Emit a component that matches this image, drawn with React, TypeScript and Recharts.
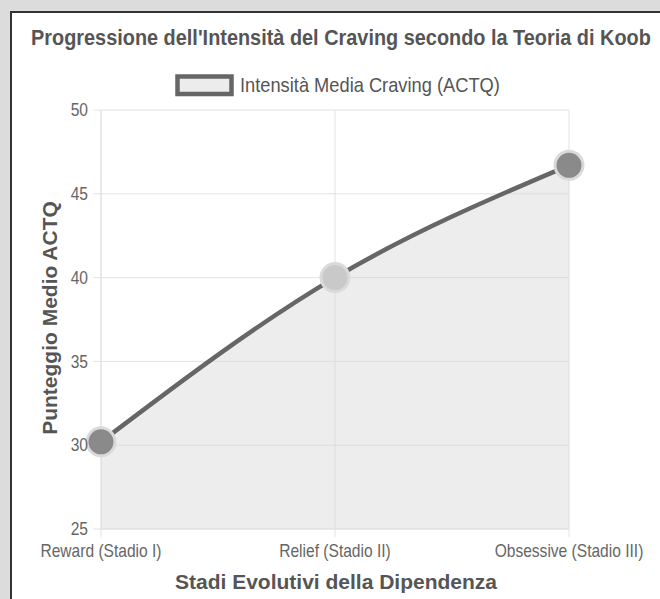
import { ComposedChart, Area, XAxis, YAxis, CartesianGrid } from 'recharts';

const STAGES = ['Reward (Stadio I)', 'Relief (Stadio II)', 'Obsessive (Stadio III)'];
const CRAVING = [30.2, 40.0, 46.7];
const Y_TICKS = [25, 30, 35, 40, 45, 50];

const POINT_FILLS = ['#8a8a8a', '#c9c9c9', '#8a8a8a'];
const FONT = '"Liberation Sans", Arial, sans-serif';
// the reference text is slightly narrower than Arial
const SQUEEZE = 0.89;

const data = STAGES.map((stage, i) => ({ stage, value: CRAVING[i] }));

function Dot(props: any) {
  const { cx, cy, index } = props;
  if (cx == null || cy == null) return null;
  return (
    <circle
      key={`dot-${index}`}
      cx={cx}
      cy={cy}
      r={14}
      fill={POINT_FILLS[index]}
      stroke="#dadada"
      strokeWidth={3}
    />
  );
}

function XTick(props: any) {
  const { x, y, payload } = props;
  return (
    <g transform={`translate(${x},${y})`}>
      <text
        x={0}
        y={0}
        dy="0.71em"
        textAnchor="middle"
        fontSize={17.5}
        fontFamily={FONT}
        fill="#666"
        transform={`scale(${SQUEEZE},1)`}
      >
        {payload.value}
      </text>
    </g>
  );
}

function YTick(props: any) {
  const { x, y, payload } = props;
  return (
    <g transform={`translate(${x},${y})`}>
      <text
        x={0}
        y={0}
        dy="0.355em"
        textAnchor="end"
        fontSize={17.5}
        fontFamily={FONT}
        fill="#666"
        transform={`scale(${SQUEEZE},1)`}
      >
        {payload.value}
      </text>
    </g>
  );
}

export default function App() {
  return (
    <div
      style={{
        position: 'absolute',
        left: 0,
        top: 0,
        width: 660,
        height: 599,
        background: '#dcdcdc',
        overflow: 'hidden',
        fontFamily: FONT,
      }}
    >
      <div
        style={{
          position: 'absolute',
          left: 10,
          top: 11,
          width: 670,
          height: 620,
          border: '2px solid #333',
          background: '#fff',
        }}
      />
      <div style={{ position: 'absolute', left: 0, top: 0 }}>
        <ComposedChart
          width={660}
          height={599}
          data={data}
          margin={{ top: 110, right: 91, bottom: 0, left: 0 }}
        >
          <CartesianGrid stroke="#e2e2e2" strokeWidth={1} />
          <XAxis
            dataKey="stage"
            scale="point"
            padding={{ left: 0, right: 0 }}
            height={70}
            tickSize={8}
            tickMargin={8}
            axisLine={{ stroke: '#e2e2e2' }}
            tickLine={{ stroke: '#e2e2e2' }}
            tick={XTick}
            interval={0}
          />
          <YAxis
            type="number"
            domain={[25, 50]}
            ticks={Y_TICKS}
            width={101}
            tickSize={8}
            tickMargin={5}
            axisLine={{ stroke: '#e2e2e2' }}
            tickLine={{ stroke: '#e2e2e2' }}
            tick={YTick}
          />
          <Area
            type="monotone"
            dataKey="value"
            stroke="#666"
            strokeWidth={4.5}
            fill="#d6d6d6"
            fillOpacity={0.45}
            dot={Dot}
            activeDot={false}
            isAnimationActive={false}
          />
        </ComposedChart>
      </div>
      <svg
        width={660}
        height={599}
        style={{ position: 'absolute', left: 0, top: 0, pointerEvents: 'none' }}
        fontFamily={FONT}
      >
        <text
          x={0}
          y={0}
          transform="translate(31,45) scale(0.904,1)"
          fontSize={22}
          fontWeight="bold"
          fill="#555"
        >
          Progressione dell'Intensità del Craving secondo la Teoria di Koob
        </text>
        <rect x={177.5} y={76.5} width={54} height={17.5} fill="#ececec" stroke="#666" strokeWidth={4.5} />
        <text
          x={0}
          y={0}
          transform="translate(240,92) scale(0.914,1)"
          fontSize={20}
          fill="#555"
        >
          Intensità Media Craving (ACTQ)
        </text>
        <text
          x={0}
          y={0}
          transform="translate(57,318) rotate(-90)"
          textAnchor="middle"
          fontSize={21}
          fontWeight="bold"
          fill="#555"
        >
          Punteggio Medio ACTQ
        </text>
        <text
          x={0}
          y={0}
          transform="translate(336,589)"
          textAnchor="middle"
          fontSize={21}
          fontWeight="bold"
          fill="#555"
        >
          Stadi Evolutivi della Dipendenza
        </text>
      </svg>
    </div>
  );
}
